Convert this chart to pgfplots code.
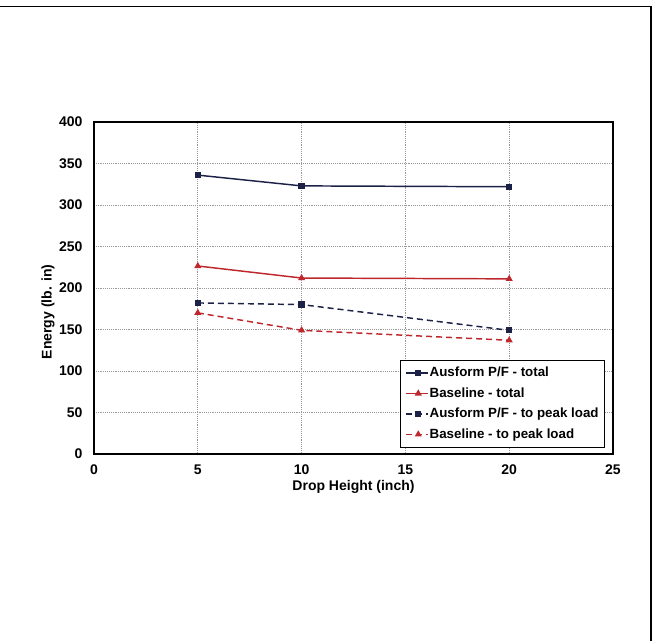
\documentclass[border=0pt]{standalone}
\usepackage{fontspec}
\setmainfont{Liberation Sans}
\usepackage{pgfplots}
\pgfplotsset{compat=1.18}
\definecolor{navy}{RGB}{28,34,70}
\definecolor{bred}{RGB}{190,40,45}
\begin{document}
\begin{tikzpicture}[x=1pt,y=1pt]
\useasboundingbox (0,0) rectangle (490.5,480.75);
\draw[line width=1.4pt] (0,475.9) -- (488.4,475.9) -- (488.4,0);
\begin{axis}[
  at={(70.5pt,140.25pt)}, anchor=south west,
  scale only axis, width=389.25pt, height=249pt,
  xmin=0, xmax=25, ymin=0, ymax=400,
  xtick={0,5,10,15,20,25}, ytick={0,50,...,400},
  major tick length=0pt,
  axis line style={line width=1.2pt},
  grid=major,
  major grid style={densely dotted, gray!80, line width=0.6pt},
  tick label style={font=\fontsize{10.5}{12}\selectfont\bfseries},
  /pgf/number format/assume math mode=true,
  xticklabel style={inner sep=0pt, anchor=north, yshift=-8pt},
  yticklabel style={inner sep=0pt, anchor=east, xshift=-8.5pt},
  xlabel={Drop Height (inch)},
  ylabel={Energy (lb. in)},
  label style={font=\fontsize{10.5}{12}\selectfont\bfseries},
  xlabel style={at={(axis description cs:0.5,0)}, anchor=north, inner sep=0pt, yshift=-19.5pt},
  ylabel style={at={([xshift=-34.5pt]axis description cs:0,0.428)}, anchor=center, inner sep=0pt},
  legend style={at={(axis description cs:1,0)}, anchor=south east, xshift=-6pt, yshift=5pt,
    draw=black, line width=0.6pt, font=\fontsize{10}{12}\selectfont\bfseries,
    row sep=2.6pt, inner xsep=4pt, inner ysep=3pt, fill=white,
    nodes={inner xsep=0.5pt}},
  legend cell align=left,
  legend image code/.code={\draw[#1] (0pt,0pt) -- (16.5pt,0pt); \draw[#1,solid] plot coordinates {(9pt,0pt)};},
]
\addplot[navy, line width=1.1pt, mark=square*, mark size=1.8pt] coordinates {(5,336) (10,323) (20,322)};
\addlegendentry{Ausform P/F - total}
\addplot[bred, line width=1.1pt, mark=triangle*, mark size=2pt] coordinates {(5,226.5) (10,212) (20,211)};
\addlegendentry{Baseline - total}
\addplot[navy, line width=1.1pt, dash pattern=on 4.5pt off 3pt, mark=square*, mark size=1.8pt, mark options={solid}] coordinates {(5,182) (10,180) (20,149)};
\addlegendentry{Ausform P/F - to peak load}
\addplot[bred, line width=1.1pt, dash pattern=on 4.5pt off 3pt, mark=triangle*, mark size=2pt, mark options={solid}] coordinates {(5,170) (10,149) (20,137)};
\addlegendentry{Baseline - to peak load}
\end{axis}
\end{tikzpicture}
\end{document}
